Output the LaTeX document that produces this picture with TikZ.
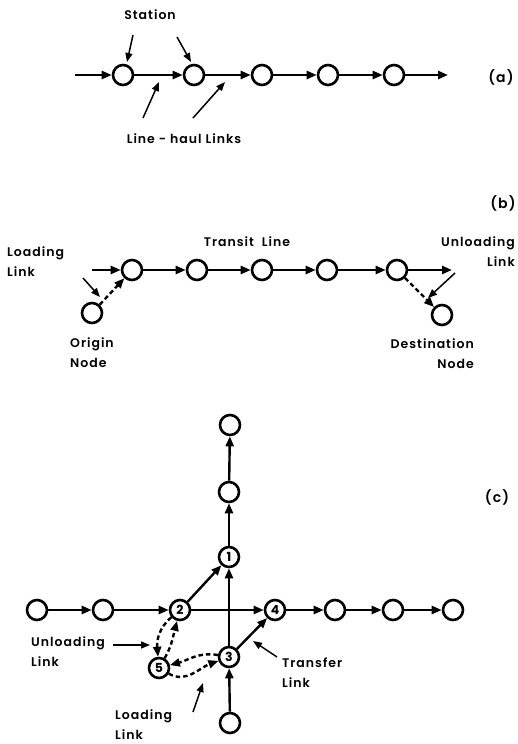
\documentclass[tikz,border=0pt]{standalone}
\usepackage{fontspec}
\setmainfont{Poppins}[UprightFont=* SemiBold, BoldFont=* Bold, LetterSpace=8]
\usetikzlibrary{arrows.meta}
\begin{document}
\begin{tikzpicture}[x=1pt,y=1pt,
  stn/.style={circle,draw,line width=2.6pt,minimum size=20pt,inner sep=0pt,font=\bfseries\fontsize{12.5}{12.5}\selectfont},
  lnk/.style={line width=2.4pt,-{Triangle[length=10pt,width=8pt]}},
  dlnk/.style={lnk,dash pattern=on 4.5pt off 3pt},
  ptr/.style={line width=1.5pt,-{Triangle[length=9pt,width=7pt]}},
  lbl/.style={font=\fontsize{12.5}{20}\selectfont,inner sep=0pt}]
\useasboundingbox (0,0) rectangle (517,-744);
% ---------- (a)
\coordinate (a0) at (75,-75);
\node[stn] (a1) at (123,-75) {};
\node[stn] (a2) at (194,-75) {};
\node[stn] (a3) at (262,-75) {};
\node[stn] (a4) at (328,-75) {};
\node[stn] (a5) at (394,-75) {};
\coordinate (a6) at (448,-75);
\draw[lnk] (a0) -- (a1);
\draw[lnk] (a1) -- (a2);
\draw[lnk] (a2) -- (a3);
\draw[lnk] (a3) -- (a4);
\draw[lnk] (a4) -- (a5);
\draw[lnk] (a5) -- (a6);
\node[lbl,font=\fontsize{14}{14}\selectfont] (ta) at (501,-77) {(a)};
\node[lbl] (stat) at (150,-15) {Station};
\coordinate (s1a) at (133,-35); \coordinate (s1b) at (127,-62);
\coordinate (s2a) at (177,-37); \coordinate (s2b) at (191,-62);
\draw[ptr] (s1a) -- (s1b);
\draw[ptr] (s2a) -- (s2b);
\node[lbl] (lh) at (184,-139) {Line - haul Links};
\coordinate (l1a) at (143,-118); \coordinate (l1b) at (159,-82);
\coordinate (l2a) at (193,-118); \coordinate (l2b) at (225,-82);
\draw[ptr] (l1a) -- (l1b);
\draw[ptr] (l2a) -- (l2b);
% ---------- (b)
\node[lbl,font=\fontsize{14}{14}\selectfont] (tb) at (503,-203) {(b)};
\node[stn] (b1) at (132,-270) {};
\node[stn] (b2) at (197,-270) {};
\node[stn] (b3) at (262,-270) {};
\node[stn] (b4) at (327,-270) {};
\node[stn] (b5) at (397,-270) {};
\coordinate (b6) at (452,-270);
\coordinate (b0) at (92,-270);
\node[stn] (bo) at (92,-313) {};
\node[stn] (bd) at (442,-315) {};
\draw[lnk] (b0) -- (b1);
\draw[lnk] (b1) -- (b2);
\draw[lnk] (b2) -- (b3);
\draw[lnk] (b3) -- (b4);
\draw[lnk] (b4) -- (b5);
\draw[lnk] (b5) -- (b6);
\draw[dlnk] (bo) -- (b1);
\draw[dlnk] (b5) -- (bd);
\node[lbl] (tl) at (247,-242) {Transit\ \ Line};
\node[lbl,anchor=west,align=left] (ll) at (7,-262) {Loading\\Link};
\node[lbl,anchor=east,align=right] (ul) at (515,-252) {Unloading\\Link};
\coordinate (p1a) at (83,-278); \coordinate (p1b) at (100,-297);
\coordinate (p2a) at (455,-273); \coordinate (p2b) at (428,-298);
\draw[ptr] (p1a) -- (p1b);
\draw[ptr] (p2a) -- (p2b);
\node[lbl,anchor=west,align=left] (on) at (70,-353) {Origin\\Node};
\node[lbl,anchor=east,align=right] (dn) at (474,-354) {Destination\\Node};
% ---------- (c)
\node[lbl,font=\fontsize{14}{14}\selectfont] (tc) at (497,-497) {(c)};
\node[stn] (ct) at (230,-425) {};
\node[stn] (cm) at (229,-492) {};
\node[stn] (c1) at (229,-557) {1};
\node[stn] (h1) at (37,-610) {};
\node[stn] (h2) at (103,-610) {};
\node[stn] (c2) at (180,-610) {2};
\node[stn] (c4) at (275,-610) {4};
\node[stn] (h5) at (335,-610) {};
\node[stn] (h6) at (393,-610) {};
\node[stn] (h7) at (453,-610) {};
\node[stn] (c3) at (229,-657) {3};
\node[stn] (c5) at (159,-668) {5};
\node[stn] (cb) at (230,-723) {};
\draw[lnk] (h1) -- (h2);
\draw[lnk] (h2) -- (c2);
\draw[lnk] (c2) -- (c4);
\draw[lnk] (c4) -- (h5);
\draw[lnk] (h5) -- (h6);
\draw[lnk] (h6) -- (h7);
\draw[lnk] (c2) -- (c1);
\draw[lnk] (c3) -- (c1);
\draw[lnk] (c1) -- (cm);
\draw[lnk] (cm) -- (ct);
\draw[lnk] (cb) -- (c3);
\draw[lnk] (c3) -- (c4);
\draw[dlnk] (c2) to[out=220,in=95] (c5);
\draw[dlnk] (c5) to[out=60,in=255] (c2);
\draw[dlnk] (c3) to[out=170,in=15] (c5);
\draw[dlnk] (c5) to[out=-30,in=200] (c3);
\node[lbl,anchor=west,align=left] (ulc) at (31,-652) {Unloading\\Link};
\coordinate (q1a) at (113,-645); \coordinate (q1b) at (150,-645);
\draw[ptr] (q1a) -- (q1b);
\node[lbl,anchor=west,align=left] (tlc) at (282,-673) {Transfer\\Link};
\coordinate (q2a) at (277,-657); \coordinate (q2b) at (253,-641);
\draw[ptr] (q2a) -- (q2b);
\node[lbl,anchor=west,align=left] (llc) at (115,-725) {Loading\\Link};
\coordinate (q3a) at (193,-712); \coordinate (q3b) at (203,-683);
\draw[ptr] (q3a) -- (q3b);
\end{tikzpicture}
\end{document}
